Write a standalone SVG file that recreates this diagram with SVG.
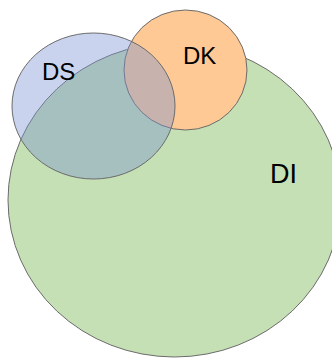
<svg xmlns="http://www.w3.org/2000/svg" width="332" height="358" viewBox="0 0 332 358">
<style>
.lbl{font-family:"Liberation Sans",Arial,sans-serif;fill:#000;}
.ol{stroke:#6b6b6b;stroke-width:1;}
</style>
<rect width="332" height="358" fill="#ffffff"/>
<g id="DI">
<ellipse class="ol" cx="174.5" cy="200" rx="166.5" ry="157" fill="#c5e0b4"/>
<text class="lbl" x="270" y="183" font-size="27">DI</text>
</g>
<g id="DK">
<ellipse class="ol" cx="185.5" cy="70" rx="61.5" ry="60" fill="#fec995"/>
<text class="lbl" x="183" y="64" font-size="24">DK</text>
</g>
<g id="DS">
<ellipse class="ol" cx="93.5" cy="106" rx="81.5" ry="73" fill="#7891d2" fill-opacity="0.4"/>
<text class="lbl" x="42" y="80" font-size="24">DS</text>
</g>
<g id="connectors"></g>
</svg>
